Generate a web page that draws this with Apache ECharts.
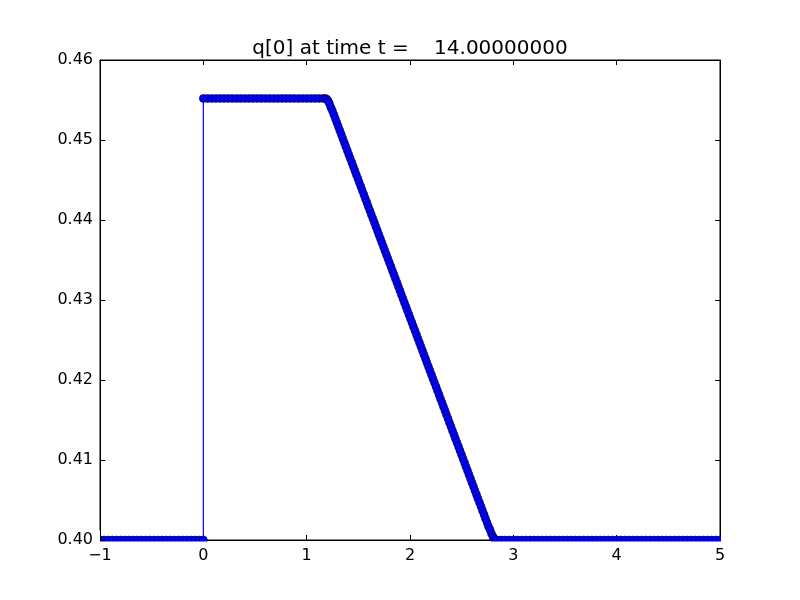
<!DOCTYPE html>
<html>
<head>
<meta charset="utf-8">
<script src="https://cdn.jsdelivr.net/npm/echarts@6/dist/echarts.min.js"></script>
<style>html,body{margin:0;padding:0;background:#fff;}#c{width:800px;height:600px;}</style>
</head>
<body>
<div id="c"></div>
<script>
const titleText = 'q[0] at time t =    14.00000000';
const xTicks = [-1, 0, 1, 2, 3, 4, 5];
const yTickValues = [0.40, 0.41, 0.42, 0.43, 0.44, 0.45, 0.46];
const yTicks = ['0.40', '0.41', '0.42', '0.43', '0.44', '0.45', '0.46'];

// left state (x < 0)
const xLeft = [-1, -0.96, -0.92, -0.88, -0.84, -0.8, -0.76, -0.72, -0.68, -0.64, -0.6, -0.56, -0.52, -0.48, -0.44, -0.4, -0.36, -0.32, -0.28, -0.24, -0.2, -0.16, -0.12, -0.08, -0.04, 0];
const qLeft = [0.4, 0.4, 0.4, 0.4, 0.4, 0.4, 0.4, 0.4, 0.4, 0.4, 0.4, 0.4, 0.4, 0.4, 0.4, 0.4, 0.4, 0.4, 0.4, 0.4, 0.4, 0.4, 0.4, 0.4, 0.4, 0.4];
// plateau
const xTop = [0, 0.04, 0.08, 0.12, 0.16, 0.2, 0.24, 0.28, 0.32, 0.36, 0.4, 0.44, 0.48, 0.52, 0.56, 0.6, 0.64, 0.68, 0.72, 0.76, 0.8, 0.84, 0.88, 0.92, 0.96, 1, 1.04, 1.08, 1.12, 1.16, 1.18, 1.195, 1.207];
const qTop = [0.4552, 0.4552, 0.4552, 0.4552, 0.4552, 0.4552, 0.4552, 0.4552, 0.4552, 0.4552, 0.4552, 0.4552, 0.4552, 0.4552, 0.4552, 0.4552, 0.4552, 0.4552, 0.4552, 0.4552, 0.4552, 0.4552, 0.4552, 0.4552, 0.4552, 0.4552, 0.4552, 0.4552, 0.4552, 0.4552, 0.4552, 0.4551, 0.4549];
// descending ramp
const xRamp = [1.219, 1.233, 1.248, 1.262, 1.277, 1.291, 1.306, 1.320, 1.335, 1.349,
  1.364, 1.378, 1.393, 1.407, 1.422, 1.437, 1.451, 1.466, 1.480, 1.495,
  1.509, 1.524, 1.538, 1.553, 1.567, 1.582, 1.596, 1.611, 1.625, 1.640,
  1.655, 1.669, 1.684, 1.698, 1.713, 1.727, 1.742, 1.756, 1.771, 1.785,
  1.800, 1.815, 1.829, 1.844, 1.858, 1.873, 1.887, 1.902, 1.916, 1.931,
  1.945, 1.960, 1.974, 1.989, 2.003, 2.018, 2.032, 2.047, 2.062, 2.076,
  2.091, 2.105, 2.120, 2.134, 2.149, 2.163, 2.178, 2.192, 2.207, 2.221,
  2.236, 2.251, 2.265, 2.280, 2.294, 2.309, 2.323, 2.338, 2.352, 2.367,
  2.381, 2.396, 2.410, 2.425, 2.439, 2.454, 2.469, 2.483, 2.498, 2.512,
  2.527, 2.541, 2.556, 2.570, 2.585, 2.599, 2.614, 2.628, 2.643, 2.657,
  2.672, 2.687, 2.701, 2.716, 2.730, 2.745, 2.759, 2.774, 2.788, 2.803, 2.818];
const qRamp = [0.4546, 0.4541, 0.4537, 0.4532, 0.4527, 0.4522, 0.4517, 0.4512, 0.4507, 0.4502,
  0.4497, 0.4492, 0.4487, 0.4482, 0.4477, 0.4472, 0.4467, 0.4462, 0.4457, 0.4452,
  0.4447, 0.4442, 0.4437, 0.4432, 0.4427, 0.4422, 0.4417, 0.4412, 0.4407, 0.4402,
  0.4397, 0.4392, 0.4387, 0.4382, 0.4377, 0.4372, 0.4367, 0.4362, 0.4357, 0.4352,
  0.4347, 0.4342, 0.4337, 0.4332, 0.4327, 0.4322, 0.4317, 0.4312, 0.4307, 0.4302,
  0.4297, 0.4292, 0.4287, 0.4282, 0.4277, 0.4272, 0.4267, 0.4262, 0.4257, 0.4252,
  0.4247, 0.4242, 0.4237, 0.4232, 0.4227, 0.4222, 0.4217, 0.4212, 0.4207, 0.4202,
  0.4197, 0.4192, 0.4187, 0.4182, 0.4177, 0.4172, 0.4167, 0.4162, 0.4157, 0.4152,
  0.4147, 0.4142, 0.4137, 0.4132, 0.4127, 0.4122, 0.4117, 0.4112, 0.4107, 0.4102,
  0.4097, 0.4092, 0.4087, 0.4082, 0.4077, 0.4072, 0.4067, 0.4062, 0.4057, 0.4052,
  0.4047, 0.4042, 0.4037, 0.4032, 0.4027, 0.4022, 0.4017, 0.4013, 0.4008, 0.4004, 0.4001];
// right state
const xRight = [2.84, 2.88, 2.92, 2.96, 3, 3.04, 3.08, 3.12, 3.16, 3.2, 3.24, 3.28, 3.32, 3.36, 3.4, 3.44, 3.48, 3.52, 3.56, 3.6, 3.64, 3.68, 3.72, 3.76, 3.8, 3.84, 3.88, 3.92, 3.96, 4, 4.04, 4.08, 4.12, 4.16, 4.2, 4.24, 4.28, 4.32, 4.36, 4.4, 4.44, 4.48, 4.52, 4.56, 4.6, 4.64, 4.68, 4.72, 4.76, 4.8, 4.84, 4.88, 4.92, 4.96, 5];
const qRight = [0.4, 0.4, 0.4, 0.4, 0.4, 0.4, 0.4, 0.4, 0.4, 0.4, 0.4, 0.4, 0.4, 0.4, 0.4, 0.4, 0.4, 0.4, 0.4, 0.4, 0.4, 0.4, 0.4, 0.4, 0.4, 0.4, 0.4, 0.4, 0.4, 0.4, 0.4, 0.4, 0.4, 0.4, 0.4, 0.4, 0.4, 0.4, 0.4, 0.4, 0.4, 0.4, 0.4, 0.4, 0.4, 0.4, 0.4, 0.4, 0.4, 0.4, 0.4, 0.4, 0.4, 0.4, 0.4];

const xs = xLeft.concat(xTop, xRamp, xRight);
const qs = qLeft.concat(qTop, qRamp, qRight);
const data = xs.map((x, i) => [x, qs[i]]);

const font = 'DejaVu Sans';
const fmtX = v => (v < 0 ? '\u2212' + Math.abs(v) : String(v));
const fmtY = v => {
  const idx = Math.round((v - 0.40) / 0.01);
  return yTicks[idx] !== undefined ? yTicks[idx] : v.toFixed(2);
};
const mkLine = () => ({ show: true, onZero: false, lineStyle: { color: '#000', width: 1 } });
const mkTick = () => ({ show: true, inside: true, length: 5, lineStyle: { color: '#000', width: 1 } });

const chart = echarts.init(document.getElementById('c'), null, { renderer: 'canvas' });
chart.setOption({
  animation: false,
  backgroundColor: '#fff',
  title: {
    text: titleText,
    left: 405,
    top: 34,
    textAlign: 'center',
    textStyle: { fontFamily: font, fontSize: 20, fontWeight: 'normal', color: '#000' }
  },
  grid: { left: 100, right: 80, top: 60, bottom: 60, show: true, borderColor: '#000', borderWidth: 1, backgroundColor: 'transparent' },
  xAxis: [
    {
      type: 'value', min: -1, max: 5, interval: 1, position: 'bottom',
      axisLine: mkLine(), axisTick: mkTick(), splitLine: { show: false },
      axisLabel: { formatter: fmtX, fontFamily: font, fontSize: 16, color: '#000', margin: 8 }
    },
    {
      type: 'value', min: -1, max: 5, interval: 1, position: 'top',
      axisLine: mkLine(), axisTick: mkTick(), splitLine: { show: false }, axisLabel: { show: false }
    }
  ],
  yAxis: [
    {
      type: 'value', min: 0.40, max: 0.46, interval: 0.01, position: 'left',
      axisLine: mkLine(), axisTick: mkTick(), splitLine: { show: false },
      axisLabel: { formatter: fmtY, fontFamily: font, fontSize: 16, color: '#000', margin: 7 }
    },
    {
      type: 'value', min: 0.40, max: 0.46, interval: 0.01, position: 'right',
      axisLine: mkLine(), axisTick: mkTick(), splitLine: { show: false }, axisLabel: { show: false }
    }
  ],
  series: [{
    type: 'line',
    data: data,
    symbol: 'circle',
    symbolSize: 8,
    clip: true,
    lineStyle: { color: '#0000ff', width: 1.2 },
    itemStyle: { color: '#0000ff', borderColor: '#000', borderWidth: 0.5 }
  }]
});

// Overlays: clip the marker halves that stick out of the axes box and
// reinforce the left spine and its inward ticks, located via the axis scales.
const toPx = (x, y) => chart.convertToPixel({ xAxisIndex: 0, yAxisIndex: 0 }, [x, y]);
const pBL = toPx(xTicks[0], yTickValues[0]);
const pTR = toPx(xTicks[xTicks.length - 1], yTickValues[yTickValues.length - 1]);
const boxL = Math.round(pBL[0]) + 0.5;
const boxR = Math.round(pTR[0]);
const boxB = Math.round(pBL[1]) + 0.5;
const boxT = Math.round(pTR[1]);
const overlay = [
  { type: 'rect', z: 100, shape: { x: boxL - 6, y: boxB + 1, width: boxR - boxL + 14, height: 4 }, style: { fill: '#fff' } },
  { type: 'rect', z: 100, shape: { x: boxL - 6, y: boxB - 10, width: 5.5, height: 15 }, style: { fill: '#fff' } },
  { type: 'rect', z: 100, shape: { x: boxR + 1, y: boxB - 10, width: 6, height: 15 }, style: { fill: '#fff' } },
  { type: 'line', z: 200, shape: { x1: boxL, y1: boxT, x2: boxL, y2: boxB }, style: { stroke: '#000', lineWidth: 1 } }
];
yTickValues.forEach(v => {
  const p = toPx(xTicks[0], v);
  const yy = Math.round(p[1]) + 0.5;
  overlay.push({ type: 'line', z: 200, shape: { x1: boxL, y1: yy, x2: boxL + 5, y2: yy }, style: { stroke: '#000', lineWidth: 1 } });
});
chart.setOption({ graphic: overlay });
</script>
</body>
</html>
